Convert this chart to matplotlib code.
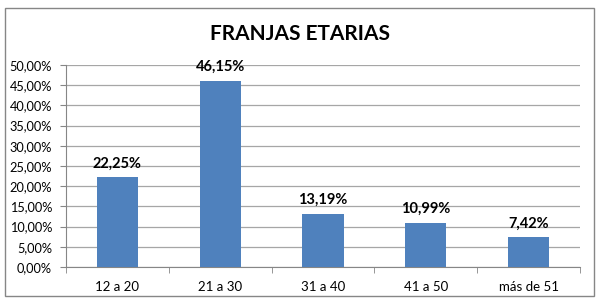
import matplotlib.pyplot as plt
import matplotlib.patches as mpatches
from matplotlib.ticker import FuncFormatter, FixedLocator
import numpy as np

plt.rcParams['font.family'] = ['Lato', 'DejaVu Sans']

categorias = ['12 a 20', '21 a 30', '31 a 40', '41 a 50', 'más de 51']
porcentajes = [22.25, 46.15, 13.19, 10.99, 7.42]
titulo = 'FRANJAS ETARIAS'

fig = plt.figure(figsize=(6.04, 3.01), dpi=100)
ax = fig.add_axes([66 / 604, 1 - 267 / 301, (580 - 66) / 604, (267 - 65) / 301])

x = np.arange(len(categorias))
ax.bar(x, porcentajes, width=0.4, color='#4F81BD', zorder=3)

for xi, v in zip(x, porcentajes):
    ax.text(xi, v + 1.6, f'{v:.2f}%'.replace('.', ','), ha='center', va='bottom',
            fontsize=10.5, fontweight='bold', color='black', zorder=4)

ax.set_xlim(-0.5, len(categorias) - 0.5)
ax.set_ylim(0, 50)
ax.set_yticks(np.arange(0, 51, 5))
ax.yaxis.set_major_formatter(FuncFormatter(lambda v, p: f'{v:.2f}%'.replace('.', ',')))
ax.grid(axis='y', color='#A6A6A6', linewidth=0.9, zorder=0)

ax.set_xticks(x)
ax.set_xticklabels(categorias)
ax.xaxis.set_minor_locator(FixedLocator(np.arange(-0.5, len(categorias), 1)))
ax.tick_params(axis='x', which='major', length=0, pad=10, labelsize=9.5)
ax.tick_params(axis='x', which='minor', length=4, color='#868686')
ax.tick_params(axis='y', length=4, color='#868686', labelsize=9.2, pad=6)

for s in ['top', 'right']:
    ax.spines[s].set_visible(False)
for s in ['left', 'bottom']:
    ax.spines[s].set_color('#868686')

fig.text(300 / 604, 1 - 34 / 301, titulo, ha='center', va='center',
         fontsize=15, fontweight='bold')

borde = mpatches.Rectangle((5 / 604, 1 - 296 / 301), 589 / 604, 288 / 301,
                           transform=fig.transFigure, fill=False,
                           edgecolor='#868686', linewidth=1)
fig.patches.append(borde)

fig.savefig('out.png', dpi=100)
